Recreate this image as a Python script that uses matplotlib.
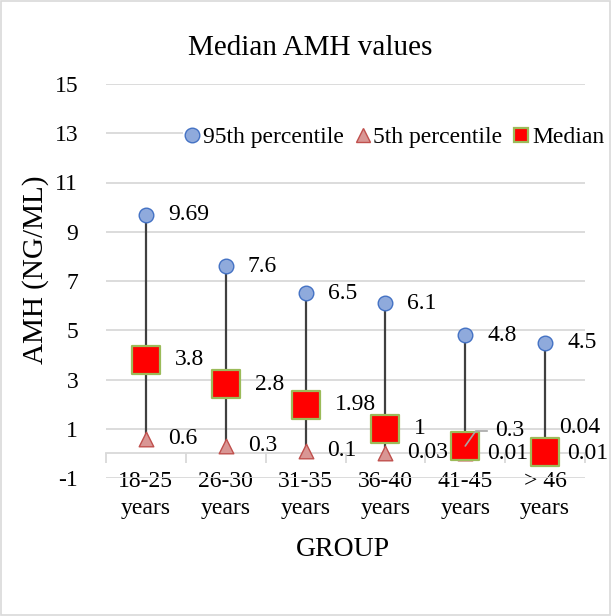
import matplotlib.pyplot as plt
from matplotlib.lines import Line2D
from matplotlib.patches import Rectangle

plt.rcParams['font.family'] = ['Liberation Serif', 'DejaVu Serif']

groups = ['18-25\nyears', '26-30\nyears', '31-35\nyears', '36-40\nyears', '41-45\nyears', '> 46\nyears']
p95 = [9.69, 7.6, 6.5, 6.1, 4.8, 4.5]
p5 = [0.6, 0.3, 0.1, 0.03, 0.01, 0.01]
median = [3.8, 2.8, 1.98, 1, 0.3, 0.04]
yticks = [-1, 1, 3, 5, 7, 9, 11, 13, 15]

fs = 17
x = list(range(len(groups)))

fig = plt.figure(figsize=(6.11, 6.16), dpi=100)
ax = fig.add_axes([106 / 611, 138 / 616, 479 / 611, 394 / 616])

# high-low lines
ax.vlines(x, p5, p95, color='#404040', lw=1.6, zorder=2)
ax.scatter(x, p95, s=10.5**2, marker='o', color='#8FAADC', edgecolor='#4472C4', lw=1, zorder=3)
ax.scatter(x, p5, s=10.5**2, marker='^', color='#D99694', edgecolor='#C0504D', lw=1, zorder=3)
ax.scatter(x, median, s=20**2, marker='s', color='#FF0000', edgecolor='#9BBB59', lw=1.6, zorder=4)

ax.set_xlim(-0.5, len(groups) - 0.5)
ax.set_ylim(-1, 15)
ax.set_yticks(yticks)
ax.set_yticklabels([str(v) for v in yticks], fontsize=fs)
ax.tick_params(axis='y', length=0, pad=20)
ax.grid(axis='y', color='#D9D9D9', lw=1.3, zorder=0)
ax.set_axisbelow(True)

for s in ['left', 'right', 'top']:
    ax.spines[s].set_visible(False)
ax.spines['bottom'].set_position(('data', 0))
ax.spines['bottom'].set_color('#D9D9D9')
ax.spines['bottom'].set_linewidth(1.3)
ax.set_xticks(x)
ax.set_xticklabels(groups, fontsize=fs, linespacing=1.35)
ax.tick_params(axis='x', which='major', length=0, pad=13)
ax.set_xticks([i - 0.5 for i in range(len(groups) + 1)], minor=True)
ax.tick_params(axis='x', which='minor', length=7, width=1.3, color='#D9D9D9', direction='out')

# data labels
def label(xv, yv, text, dx, dy=0):
    ax.annotate(text, (xv, yv), xytext=(dx, dy), textcoords='offset pixels',
                ha='left', va='center', fontsize=fs, zorder=5)

for i in x:
    label(i, p95[i], f'{p95[i]:g}', 22)
    label(i, p5[i], f'{p5[i]:g}', 22)

for i in range(4):
    label(i, median[i], f'{median[i]:g}', 29)

# crowded medians near zero
label(4, median[4], f'{median[4]:g}', 30, 15)
ax.annotate('', xy=(4, median[4]), xytext=(22, 15), textcoords='offset pixels',
            arrowprops=dict(arrowstyle='-', color='#A6A6A6', lw=1.2, shrinkA=0, shrinkB=0,
                            connectionstyle='angle,angleA=0,angleB=55,rad=0'), zorder=5)
label(5, median[5], f'{median[5]:g}', 14, 25)

fig.text(310 / 611, 1 - 48 / 616, 'Median AMH values', ha='center', va='center', fontsize=21)
fig.text(36 / 611, 1 - 270 / 616, 'AMH (NG/ML)', ha='center', va='center', rotation=90, fontsize=21)
fig.text(343 / 611, 1 - 550 / 616, 'GROUP', ha='center', va='center', fontsize=20)

handles = [
    Line2D([], [], ls='', marker='o', ms=10.5, color='#8FAADC', mec='#4472C4'),
    Line2D([], [], ls='', marker='^', ms=10.5, color='#D99694', mec='#C0504D'),
    Line2D([], [], ls='', marker='s', ms=10, color='#FF0000', mec='#9BBB59', mew=1.6),
]
fig.legend(handles, ['95th percentile', '5th percentile', 'Median'], ncol=3,
           loc='center left', bbox_to_anchor=(183 / 611, 1 - 137 / 616),
           frameon=True, facecolor='white', edgecolor='none', framealpha=1,
           fontsize=fs, handlelength=0.6, handletextpad=0.15, columnspacing=0.5,
           borderpad=0.1, borderaxespad=0)

fig.patches.append(Rectangle((0.002, 0.002), 0.996, 0.996, transform=fig.transFigure,
                             fill=False, edgecolor='#D9D9D9', lw=1.2))

fig.savefig('out.png', dpi=100)
